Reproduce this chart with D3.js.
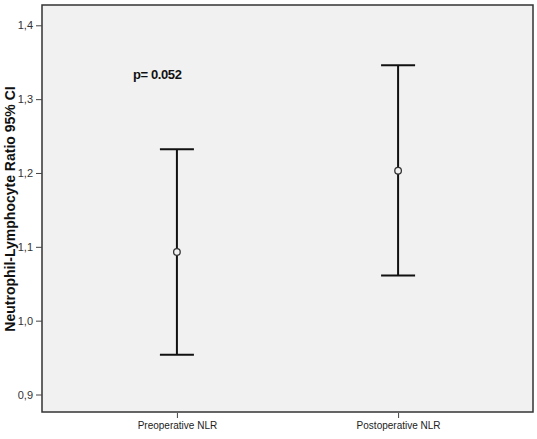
<!DOCTYPE html>
<html><head><meta charset="utf-8">
<script src="https://cdn.jsdelivr.net/npm/d3@7"></script>
<style>body{margin:0;background:#fff;}svg{display:block;}</style>
</head><body>
<script>
const categories = ["Preoperative NLR", "Postoperative NLR"];
const means = [1.093, 1.203];
const lower = [0.954, 1.061];
const upper = [1.232, 1.346];
const yTicks = [0.9, 1.0, 1.1, 1.2, 1.3, 1.4];
const annotation = "p= 0.052";

const W = 537, H = 439;
const m = {l: 42, r: 4, t: 5, b: 26};
const svg = d3.select("body").append("svg").attr("width", W).attr("height", H);

const y = d3.scaleLinear().domain([0.8763, 1.4275]).range([H - m.b - 1, m.t]);
const x = d3.scalePoint().domain(categories).range([m.l, W - m.r]).padding(0.61);

svg.append("rect").attr("x", m.l).attr("y", m.t).attr("width", W - m.l - m.r).attr("height", H - m.t - m.b - 1)
  .attr("fill", "#f1f1f1").attr("stroke", "#333").attr("stroke-width", 1.5);

const fmt = d => d3.format(".1f")(d).replace(".", ",");
const ya = svg.append("g").attr("transform", `translate(${m.l},0)`)
  .call(d3.axisLeft(y).tickValues(yTicks).tickFormat(fmt).tickSize(6).tickPadding(3));
ya.select(".domain").remove();
ya.selectAll("line").attr("stroke", "#444");
ya.selectAll("text").attr("font-family", "Arial, 'Liberation Sans', sans-serif").attr("font-size", 11).attr("fill", "#333");

const xa = svg.append("g").attr("transform", `translate(0,${H - m.b})`)
  .call(d3.axisBottom(x).tickSize(5).tickPadding(4));
xa.select(".domain").remove();
xa.selectAll("line").attr("stroke", "#444");
xa.selectAll("text").attr("font-family", "Arial, 'Liberation Sans', sans-serif").attr("font-size", 10).attr("fill", "#222");

svg.append("text").attr("transform", `translate(15,${(m.t + H - m.b) / 2}) rotate(-90)`)
  .attr("text-anchor", "middle").attr("font-family", "Arial, 'Liberation Sans', sans-serif")
  .attr("font-weight", "bold").attr("font-size", 14).attr("fill", "#111")
  .text("Neutrophil-Lymphocyte Ratio 95% CI");

const data = categories.map((c, i) => ({c, mean: means[i], lo: lower[i], hi: upper[i]}));
const g = svg.append("g");
const cap = 17;
data.forEach(d => {
  const cx = x(d.c);
  g.append("line").attr("x1", cx).attr("x2", cx).attr("y1", y(d.hi)).attr("y2", y(d.lo)).attr("stroke", "#111").attr("stroke-width", 2);
  g.append("line").attr("x1", cx - cap).attr("x2", cx + cap).attr("y1", y(d.hi)).attr("y2", y(d.hi)).attr("stroke", "#111").attr("stroke-width", 2);
  g.append("line").attr("x1", cx - cap).attr("x2", cx + cap).attr("y1", y(d.lo)).attr("y2", y(d.lo)).attr("stroke", "#111").attr("stroke-width", 2);
  g.append("circle").attr("cx", cx).attr("cy", y(d.mean)).attr("r", 3.3).attr("fill", "#f1f1f1").attr("stroke", "#333").attr("stroke-width", 1.3);
});

svg.append("text").attr("x", 133).attr("y", 79).attr("font-family", "Arial, 'Liberation Sans', sans-serif")
  .attr("font-weight", "bold").attr("font-size", 13).attr("fill", "#111").attr("letter-spacing", -0.4).text(annotation);
</script>
</body></html>
